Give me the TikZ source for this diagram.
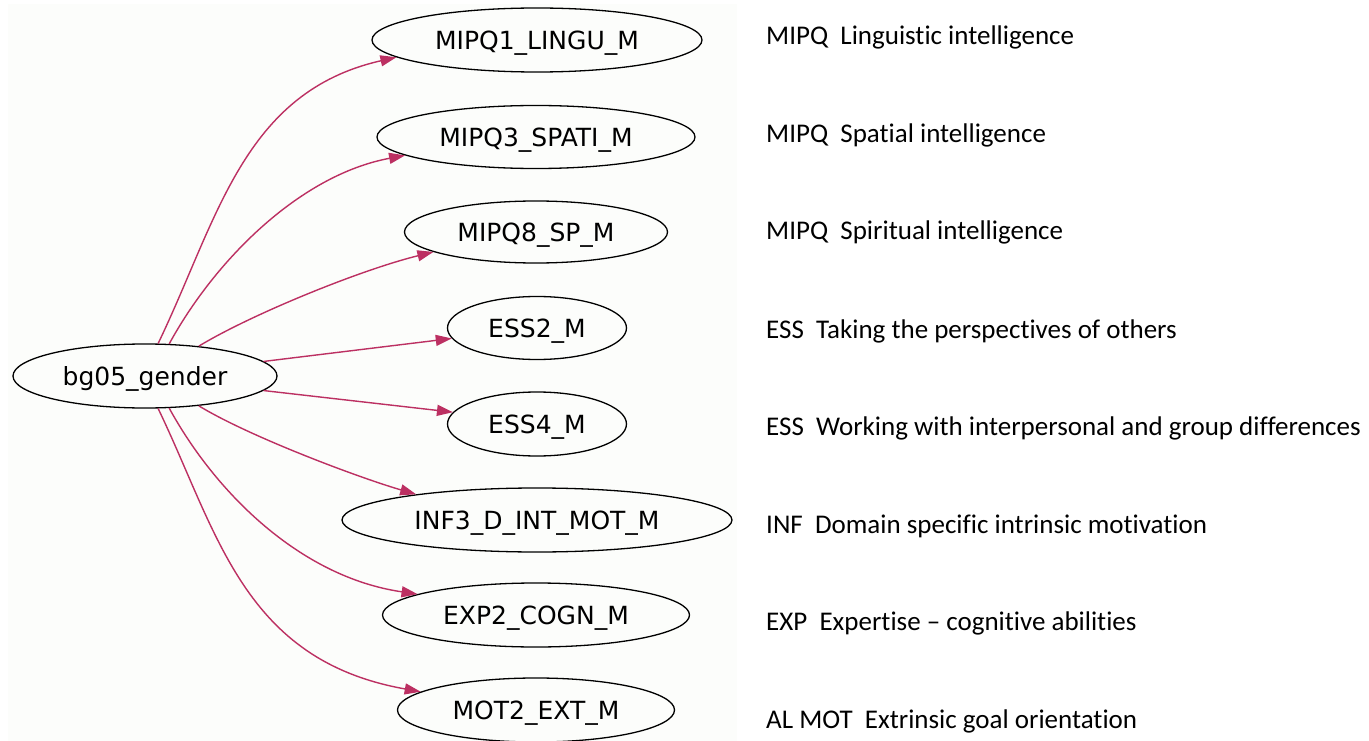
\documentclass[tikz,border=0pt]{standalone}
\usepackage{fontspec}
\setmainfont{Carlito}[Ligatures={NoCommon,NoContextual}, RawFeature={-clig;-calt;-dlig}]
\newfontfamily\gvfont{DejaVu Sans}
\usetikzlibrary{shapes.geometric,arrows.meta}
\definecolor{edgecol}{RGB}{188,48,98}
\definecolor{panelbg}{RGB}{252,253,251}
\tikzset{
  gvnode/.style={draw=black, line width=1.3pt, ellipse, inner sep=0pt,
    font=\gvfont\fontsize{25}{29}\selectfont, text height=18.2pt, text depth=0pt},
  gvedge/.style={draw=edgecol, line width=1.4pt, -{Triangle[length=16pt,width=11pt]}},
  legend/.style={anchor=base west, inner sep=0pt, font=\fontsize{27}{32}\selectfont}
}
\begin{document}
\begin{tikzpicture}[x=1pt,y=-1pt]
\useasboundingbox (0,0) rectangle (1369,741);
\fill[panelbg] (8,4) rectangle (737,741);
% nodes
\node[gvnode, minimum width=264pt, minimum height=64pt] (g) at (145,376) {bg05\_gender};
\node[gvnode, minimum width=330pt, minimum height=64pt] (m1) at (537,40) {MIPQ1\_LINGU\_M};
\node[gvnode, minimum width=318pt, minimum height=63pt] (m3) at (536,137) {MIPQ3\_SPATI\_M};
\node[gvnode, minimum width=263pt, minimum height=62pt] (m8) at (536,232) {MIPQ8\_SP\_M};
\node[gvnode, minimum width=179pt, minimum height=63pt] (e2) at (537,328) {ESS2\_M};
\node[gvnode, minimum width=179pt, minimum height=64pt] (e4) at (537,424) {ESS4\_M};
\node[gvnode, minimum width=390pt, minimum height=64pt] (i3) at (537,520) {INF3\_D\_INT\_MOT\_M};
\node[gvnode, minimum width=307pt, minimum height=64pt] (x2) at (536,615) {EXP2\_COGN\_M};
\node[gvnode, minimum width=277pt, minimum height=64pt] (t2) at (536,710) {MOT2\_EXT\_M};
% edges
\draw[gvedge] (g.68) .. controls (218,219) and (243,92) .. (m1.187.6);
\draw[gvedge] (g.53) .. controls (215,260) and (300,175) .. (m3.188.1);
\draw[gvedge] (g.29) .. controls (250,315) and (360,270) .. (m8.191.2);
\draw[gvedge] (g.7) -- (e2.187.3);
\draw[gvedge] (g.-7) -- (e4.172.9);
\draw[gvedge] (g.-29) .. controls (250,437) and (360,478) .. (i3.168);
\draw[gvedge] (g.-53) .. controls (215,492) and (300,577) .. (x2.170.7);
\draw[gvedge] (g.-68) .. controls (218,533) and (243,660) .. (t2.171.6);
% legend texts
\node[legend] (l1) at (766,45) {MIPQ~~Linguistic intelligence};
\node[legend] (l2) at (766,142.6) {MIPQ~~Spatial intelligence};
\node[legend] (l3) at (766,240) {MIPQ~~Spiritual intelligence};
\node[legend] (l4) at (766,338) {ESS~~Taking the perspectives of others};
\node[legend] (l5) at (766,435) {ESS~~Working with interpersonal and group differences};
\node[legend] (l6) at (766,533) {INF~~Domain specific intrinsic motivation};
\node[legend] (l7) at (766,630) {EXP~~Expertise -- cognitive abilities};
\node[legend] (l8) at (766,728) {AL MOT~~Extrinsic goal orientation};
\end{tikzpicture}
\end{document}
